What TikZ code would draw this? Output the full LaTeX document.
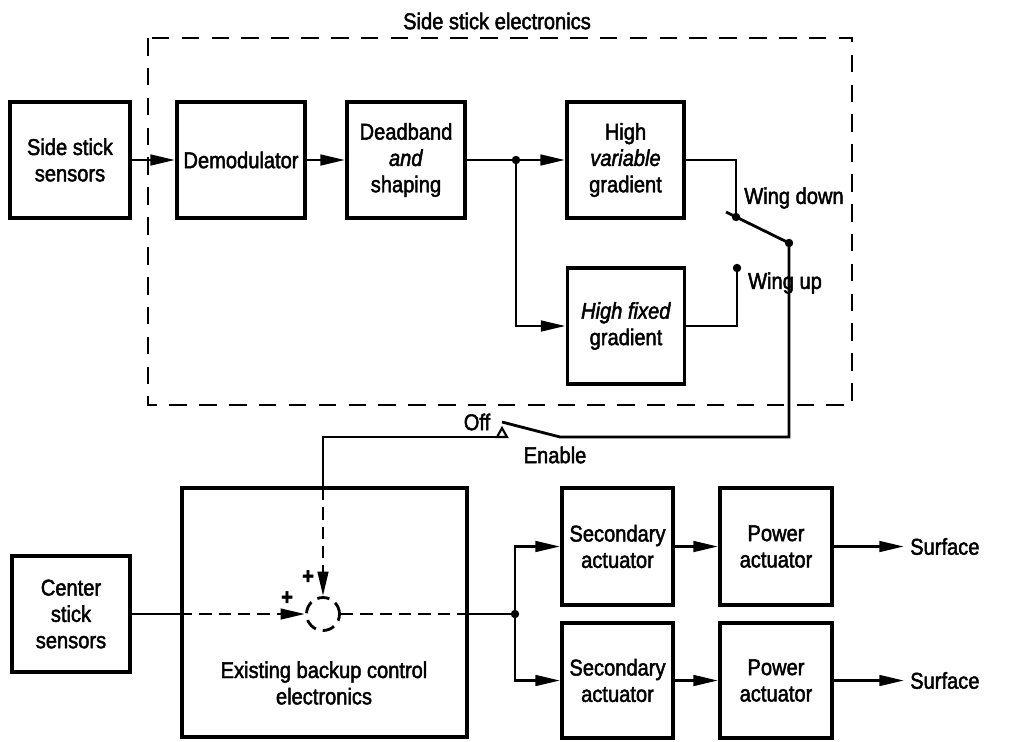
\documentclass[tikz,border=0pt]{standalone}
\usepackage{fontspec}
\setmainfont{Liberation Sans}[FakeStretch=0.88, FakeBold=2]
\usetikzlibrary{arrows.meta}
\tikzset{
	blk/.style={draw, line width=2.2pt, align=center, inner sep=1pt, minimum height=2.33cm},
	wire/.style={line width=1.6pt},
	feed/.style={wire, -{Triangle[length=14pt,width=6pt]}},
	dwire/.style={wire, dash pattern=on 7pt off 4pt},
	dfeed/.style={dwire, -{Triangle[length=14pt,width=6pt]}},
	lbl/.style={inner sep=1pt}
}

\begin{document}
\begin{tikzpicture}[x=0.02cm, y=-0.02cm, font=\fontsize{13}{15}\selectfont]
			%%%%% START %%%%%
			\useasboundingbox (0,0) rectangle (1016,741);
			
			\draw[line width=1.4pt, dash pattern=on 10pt off 7pt] (148,38) rectangle (852,405);
			\node (ttl) at (497,21) {Side stick electronics};
			
			\node[blk, minimum width=2.4cm] (sss) at (70,160) {Side stick\\sensors};
			\node[blk, minimum width=2.56cm] (demod) at (241,160) {Demodulator};
			\node[blk, minimum width=2.36cm] (dead) at (406,160) {Deadband\\\textit{and}\\shaping};
			\node[blk, minimum width=2.34cm] (hvar) at (625.5,160) {High\\\textit{variable}\\gradient};
			\node[blk, minimum width=2.34cm] (hfix) at (626,326) {\textit{High fixed}\\gradient};
			
			\node[blk, minimum width=2.36cm, minimum height=2.32cm] (css) at (71,614) {Center\\stick\\sensors};
			\node[blk, minimum width=5.7cm, minimum height=4.98cm] (ebc) at (324.5,612.5) {};
			\node[align=center] (ebctxt) at (324,683) {Existing backup control\\electronics};
			\node[draw, circle, dwire, minimum size=0.66cm, inner sep=0pt] (sj) at (323,614) {};
			
			\node[blk, minimum width=2.22cm, minimum height=2.34cm] (sec1) at (617.5,546.5) {Secondary\\actuator};
			\node[blk, minimum width=2.22cm, minimum height=2.3cm] (sec2) at (617.5,680.5) {Secondary\\actuator};
			\node[blk, minimum width=2.24cm, minimum height=2.34cm] (pow1) at (776,546.5) {Power\\actuator};
			\node[blk, minimum width=2.24cm, minimum height=2.3cm] (pow2) at (776,680.5) {Power\\actuator};
			\node[anchor=west] (surf1) at (904,546.5) {Surface};
			\node[anchor=west] (surf2) at (904,680.5) {Surface};
			
			\coordinate (j1) at (516,160);
			\coordinate (wd) at (736,217);
			\coordinate (wu) at (737,268);
			\coordinate (armL) at (726,212);
			\coordinate (piv) at (789,243);
			\coordinate (en) at (560,437);
			\coordinate (offarm) at (502,422);
			\coordinate (offR) at (507,437);
			\coordinate (ebtop) at (323,488);
			\coordinate (j2) at (515,614);
			
			% side stick path
			\draw[feed] (sss) -- (demod);
			\draw[feed] (demod) -- (dead);
			\draw[feed] (dead) -- (hvar);
			\draw[feed] (j1) |- (hfix);
			\draw[wire] (hvar.east) -| (wd);
			\draw[wire] (hfix.east) -| (wu);
			\draw[wire] (armL) -- (piv);
			\draw[wire] (piv) |- (en) -- (offarm);
			\draw[line width=1.2pt] (497,437) -- (502,428) -- (507,437) -- cycle;
			\draw[wire] (offR) -| (ebtop);
			\draw[dfeed] (ebtop) -- (sj);
			
			% center stick path
			\draw[wire] (css.east) -- (ebc.west |- css);
			\draw[dfeed] (ebc.west |- sj) -- (sj);
			\draw[dwire] (sj) -- (ebc.east |- sj);
			\draw[wire] (ebc.east |- sj) -- (j2);
			\draw[feed] (j2) |- (sec1);
			\draw[feed] (j2) |- (sec2);
			\draw[feed] (sec1) -- (pow1);
			\draw[feed] (sec2) -- (pow2);
			\draw[feed] (pow1) -- (surf1);
			\draw[feed] (pow2) -- (surf2);
			
			\foreach \p in {j1,wd,wu,piv,j2}
				\fill (\p) circle[radius=2.4pt];
			
			\node[lbl] (wdl) at (794,198) {Wing down};
			\node[lbl] (wul) at (785,283) {Wing up};
			\node[lbl] (offl) at (477,422) {Off};
			\node[lbl] (enl) at (555,455) {Enable};
			\node[lbl] (pl1) at (308,577) {\textbf{+}};
			\node[lbl] (pl2) at (287,598) {\textbf{+}};
			%%%%% END %%%%%
\end{tikzpicture}
\end{document}
